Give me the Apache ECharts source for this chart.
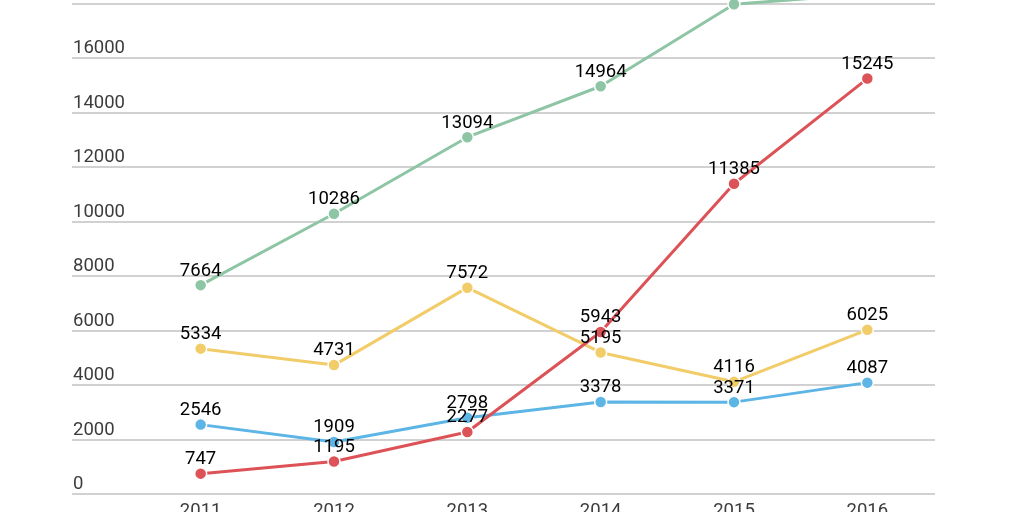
<!DOCTYPE html>
<html>
<head>
<meta charset="utf-8">
<script src="https://cdn.jsdelivr.net/npm/echarts@6/dist/echarts.min.js"></script>
<style>html,body{margin:0;padding:0;background:#fff;overflow:hidden;width:1024px;height:512px;position:relative;}#c{position:absolute;left:0;top:-51px;width:1024px;height:563px;}</style>
</head>
<body>
<div id="c"></div>
<script>
const years = ['2011', '2012', '2013', '2014', '2015', '2016'];
const greenValues = [7664, 10286, 13094, 14964, 17970, 18350];
const yellowValues = [5334, 4731, 7572, 5195, 4116, 6025];
const blueValues = [2546, 1909, 2798, 3378, 3371, 4087];
const redValues = [747, 1195, 2277, 5943, 11385, 15245];
const yMin = 0, yMax = 20000, yStep = 2000;

const font = 'Roboto, "Noto Sans", sans-serif';
function mk(name, data, color) {
  return {
    name: name, type: 'line', xAxisIndex: 1, yAxisIndex: 1, data: data,
    symbol: 'circle', symbolSize: 12,
    lineStyle: {color: color, width: 3},
    itemStyle: {color: color, borderColor: '#fff', borderWidth: 1.5},
    label: {show: true, position: 'top', distance: -2, color: '#000', fontSize: 18.5, fontFamily: font},
    emphasis: {disabled: true},
    animation: false
  };
}
const chart = echarts.init(document.getElementById('c'));
chart.setOption({
  animation: false,
  grid: [
    {left: 72, right: 89, top: 0, bottom: 18, outerBoundsMode: 'none', containLabel: false},
    {left: 134, right: 90, top: 0, bottom: 18, outerBoundsMode: 'none', containLabel: false}
  ],
  xAxis: [
    {type: 'category', gridIndex: 0, data: years, show: false},
    {type: 'category', gridIndex: 1, data: years, boundaryGap: true,
     axisLine: {show: false}, axisTick: {show: false},
     axisLabel: {color: '#3c3c3c', fontSize: 18.5, fontFamily: font, margin: 8}}
  ],
  yAxis: [
    {type: 'value', gridIndex: 0, min: yMin, max: yMax, interval: yStep,
     axisLine: {show: false}, axisTick: {show: false},
     axisLabel: {inside: true, margin: 1, verticalAlign: 'bottom', padding: [0, 0, 0, 0],
                 color: '#3c3c3c', fontSize: 18.5, fontFamily: font,
                 formatter: function (v) { return String(v); }},
     splitLine: {lineStyle: {color: '#c2c2c2', width: 1.5}}},
    {type: 'value', gridIndex: 1, min: yMin, max: yMax, interval: yStep, show: false,
     splitLine: {show: false}}
  ],
  series: [
    mk('green', greenValues, '#8ec5a4'),
    mk('yellow', yellowValues, '#f1cc68'),
    mk('blue', blueValues, '#5cb5e5'),
    mk('red', redValues, '#dc5256')
  ]
});
</script>
</body>
</html>
